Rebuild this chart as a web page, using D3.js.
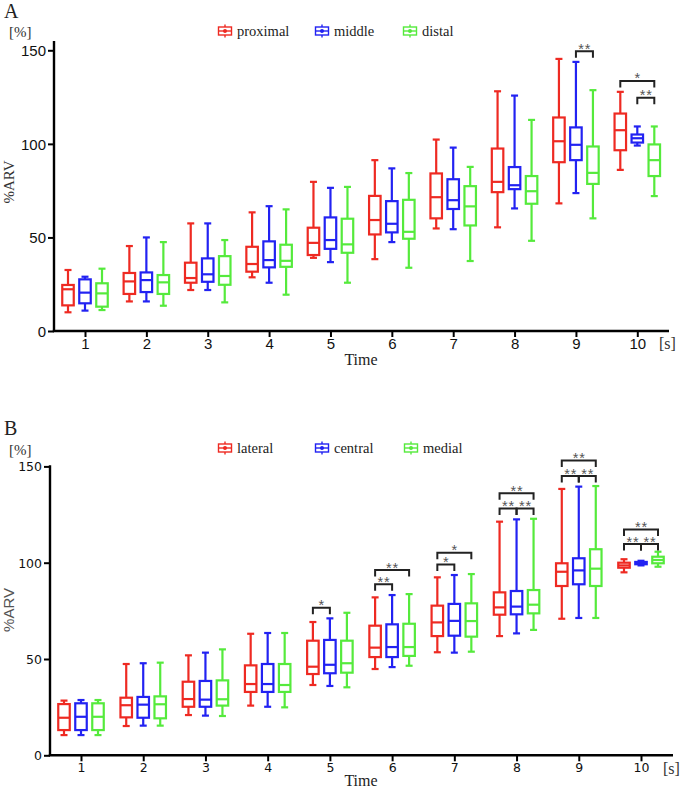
<!DOCTYPE html>
<html>
<head>
<meta charset="utf-8">
<script src="https://cdn.jsdelivr.net/npm/d3@7/dist/d3.min.js"></script>
<style>
  html, body { margin: 0; padding: 0; background: #fff; }
  svg { display: block; }
</style>
</head>
<body>
<svg id="chart" width="682" height="790"></svg>
<script>
// ---------------- DATA ----------------
const times = [1, 2, 3, 4, 5, 6, 7, 8, 9, 10];
const yTicks = [0, 50, 100, 150];
const seriesNamesA = ["proximal", "middle", "distal"];
const seriesNamesB = ["lateral", "central", "medial"];
const colors = ["#ee2a22", "#2222f2", "#55ea3c"];

// each entry: [min, q1, median, q3, max]
const proximal = [
  [10, 13.7, 22.3, 24.6, 32.6], [15.8, 19.8, 26.5, 31, 45.4], [21.9, 25.8, 28.3, 36.5, 57.5],
  [28.7, 31.7, 35.8, 45, 63.4], [39.1, 40.6, 47.1, 55.2, 79.7], [38.4, 51.6, 59.3, 72.2, 91.3],
  [54.8, 60.2, 71.5, 84.2, 102.3], [55.4, 74.2, 79.7, 97.5, 128.1], [68.2, 90.2, 101.4, 114.1, 145.4],
  [86.1, 96.6, 107.3, 116.2, 127.8]
];
const middle = [
  [10.9, 14.8, 20.5, 27.6, 29], [15.8, 20.8, 27.2, 31.3, 50], [21.9, 26.3, 30.3, 38.8, 57.5],
  [25.8, 34, 37.9, 47.9, 66.7], [36.8, 43.9, 48.6, 60.7, 76.5], [47.5, 52.7, 57.3, 69.4, 86.9],
  [54.4, 65.2, 69.9, 81.1, 98], [65.5, 75.8, 77.9, 87.6, 125.8], [73.7, 91.3, 99.5, 108.8, 143.8],
  [99.1, 100.7, 103, 105, 109.3]
];
const distal = [
  [11.2, 13, 20.1, 25.5, 33.3], [13.5, 19.8, 26, 29.9, 47.5], [15.3, 24.7, 29.4, 40, 48.6],
  [19.4, 34.3, 37.5, 46.1, 65], [25.8, 41.8, 46.3, 60, 77], [33.8, 49.3, 53, 70.1, 84.4],
  [37.4, 56.4, 66.6, 77.4, 87.7], [48.2, 68, 74.7, 82.8, 112.8], [60.2, 78.6, 84.5, 98.6, 128.7],
  [72.1, 82.8, 91.3, 99.7, 109.3]
];
const lateral = [
  [10.5, 13.1, 19.5, 26.6, 28.4], [15.2, 19.7, 26, 29.9, 47.4], [20.9, 25.2, 29.2, 38.2, 51.9],
  [25.8, 32.9, 37, 46.7, 63.1], [36.5, 42.2, 46, 59.5, 69.2], [44.8, 51, 55.9, 67.3, 82],
  [53.5, 61.9, 69, 77.7, 92.4], [61.9, 73, 76.8, 84.6, 121.3], [70.9, 87.9, 95.3, 99.7, 138.3],
  [95, 97.4, 98.6, 100, 101.8]
];
const central = [
  [10.5, 13.1, 20, 27, 28.7], [15.4, 19.5, 26.3, 30.3, 47.8], [20.6, 25.2, 28.9, 38.6, 53.3],
  [25.2, 32.9, 37, 47.4, 63.5], [36, 42.6, 47, 59.9, 71.1], [45.8, 51, 56.2, 68, 83.2],
  [53.3, 62.1, 69.8, 78.6, 93.6], [63.3, 73.2, 77.2, 85.3, 122.5], [71.3, 88.8, 96, 102.3, 139.5],
  [98.6, 99.2, 99.8, 100.4, 101]
];
const medial = [
  [10.5, 13.1, 20, 27, 28.7], [15.4, 19.2, 26.5, 30.6, 48.1], [20.4, 25.8, 29.1, 38.9, 55],
  [24.9, 32.9, 36.5, 47.4, 63.5], [35.3, 42.9, 47.8, 59.5, 74], [46.5, 51.6, 56.2, 68.3, 83.7],
  [53.8, 61.6, 69.7, 78.9, 94.1], [65.1, 73.7, 78.2, 85.8, 122.8], [71.3, 87.9, 96.9, 107, 139.8],
  [97.9, 99.7, 101.4, 103.1, 105.7]
];
// significance brackets: [time, fromSeries, toSeries, level (%), label]
const sigA = [
  [9, 1, 2, 149.5, "**"],
  [10, 0, 2, 133.6, "*"],
  [10, 1, 2, 124.6, "**"]
];
const sigB = [
  [5, 0, 1, 76.6, "*"],
  [6, 0, 1, 88.8, "**"], [6, 0, 2, 96.2, "**"],
  [7, 0, 1, 99.1, "*"], [7, 0, 2, 105.2, "*"],
  [8, 0, 1, 128.2, "**"], [8, 1, 2, 128.2, "**"], [8, 0, 2, 136, "**"],
  [9, 0, 1, 145, "**"], [9, 1, 2, 145, "**"], [9, 0, 2, 153, "**"],
  [10, 0, 1, 109.7, "**"], [10, 1, 2, 109.7, "**"], [10, 0, 2, 117.3, "**"]
];

// ---------------- DRAW ----------------
const svg = d3.select("#chart");
const serif = "'Liberation Serif','Times New Roman',serif";
const sans = "'Liberation Sans',Arial,sans-serif";

function panel(cfg) {
  const g = svg.append("g");
  const x = d3.scaleLinear().domain([1, 10]).range(cfg.xRange);
  const y = d3.scaleLinear().domain([0, 150]).range(cfg.yRange);
  const off = 17, bw = 11.5, cw = 7;

  // axes lines
  g.append("line").attr("x1", cfg.axisX).attr("x2", cfg.axisX)
    .attr("y1", y(0)).attr("y2", cfg.yTop)
    .attr("stroke", "#000").attr("stroke-width", 2.4);
  g.append("line").attr("x1", cfg.axisX - 1.2).attr("x2", cfg.xEnd)
    .attr("y1", y(0)).attr("y2", y(0))
    .attr("stroke", "#000").attr("stroke-width", 2.4);

  // y axis ticks
  const ya = g.append("g").attr("transform", `translate(${cfg.axisX},0)`)
    .call(d3.axisLeft(y).tickValues(yTicks).tickSize(6).tickSizeOuter(0).tickFormat(d3.format("d")));
  ya.select(".domain").remove();
  ya.selectAll(".tick line").attr("stroke", "#000").attr("stroke-width", 2);
  ya.selectAll(".tick text").attr("font-family", cfg.tickFont).attr("font-size", cfg.tickSize)
    .attr("fill", "#111").attr("x", -8).attr("dy", "0.36em");

  // x axis ticks
  const xa = g.append("g").attr("transform", `translate(0,${y(0)})`)
    .call(d3.axisBottom(x).tickValues(times).tickSize(6).tickSizeOuter(0).tickFormat(d3.format("d")));
  xa.select(".domain").remove();
  xa.selectAll(".tick line").attr("stroke", "#000").attr("stroke-width", 2);
  xa.selectAll(".tick text").attr("font-family", cfg.tickFont).attr("font-size", cfg.tickSize)
    .attr("fill", "#111").attr("y", cfg.xLabelY).attr("dy", "0");

  // boxes
  cfg.series.forEach((data, si) => {
    const col = colors[si];
    const sg = g.append("g").attr("stroke", col).attr("fill", "none").attr("stroke-width", 2.2);
    data.forEach((d, i) => {
      const cx = x(times[i]) + (si - 1) * off;
      const [mn, q1, md, q3, mx] = d;
      sg.append("line").attr("x1", cx).attr("x2", cx).attr("y1", y(mx)).attr("y2", y(q3));
      sg.append("line").attr("x1", cx).attr("x2", cx).attr("y1", y(q1)).attr("y2", y(mn));
      sg.append("line").attr("x1", cx - cw / 2).attr("x2", cx + cw / 2).attr("y1", y(mx)).attr("y2", y(mx));
      sg.append("line").attr("x1", cx - cw / 2).attr("x2", cx + cw / 2).attr("y1", y(mn)).attr("y2", y(mn));
      sg.append("rect").attr("x", cx - bw / 2).attr("width", bw)
        .attr("y", y(q3)).attr("height", Math.max(1, y(q1) - y(q3)));
      sg.append("line").attr("x1", cx - bw / 2).attr("x2", cx + bw / 2).attr("y1", y(md)).attr("y2", y(md));
    });
  });

  // significance brackets
  cfg.sig.forEach(([t, a, b, lvl, lab]) => {
    const x1 = x(t) + (a - 1) * off, x2 = x(t) + (b - 1) * off, yy = y(lvl);
    g.append("path").attr("d", `M${x1},${yy + 6.5}V${yy}H${x2}V${yy + 6.5}`)
      .attr("fill", "none").attr("stroke", "#222").attr("stroke-width", 2);
    const txt = g.append("text").attr("y", yy + 2.5)
      .attr("text-anchor", "middle").attr("font-family", sans)
      .attr("font-size", 14.5).attr("fill", "#555");
    lab.split("").forEach((c, k) => {
      const n = lab.length;
      txt.append("tspan").attr("x", (x1 + x2) / 2 + (k - (n - 1) / 2) * 6.5).text(c);
    });
  });

  // legend
  cfg.legend.forEach((name, i) => {
    const lx = cfg.legendX[i], ly = cfg.legendY;
    const lg = g.append("g").attr("stroke", colors[i]).attr("fill", "none").attr("stroke-width", 1.4);
    lg.append("rect").attr("x", lx - 6.5).attr("y", ly - 4).attr("width", 13).attr("height", 8);
    lg.append("line").attr("x1", lx - 6.5).attr("x2", lx + 6.5).attr("y1", ly).attr("y2", ly);
    lg.append("line").attr("x1", lx).attr("x2", lx).attr("y1", ly - 6.5).attr("y2", ly - 4);
    lg.append("line").attr("x1", lx).attr("x2", lx).attr("y1", ly + 4).attr("y2", ly + 6.5);
    lg.append("circle").attr("cx", lx).attr("cy", ly).attr("r", 1.3).attr("fill", colors[i]);
    g.append("text").attr("x", lx + 12).attr("y", ly + 4.5)
      .attr("font-family", serif).attr("font-size", 14.5).attr("fill", "#222").text(name);
  });

  // labels
  g.append("text").attr("x", 4).attr("y", cfg.letterY).attr("font-family", serif)
    .attr("font-size", 20).attr("fill", "#222").text(cfg.letter);
  g.append("text").attr("x", 9).attr("y", cfg.pctY).attr("font-family", serif)
    .attr("font-size", 15).attr("fill", "#333").text("[%]");
  g.append("text").attr("x", cfg.sX).attr("y", y(0) + cfg.sDY).attr("font-family", serif)
    .attr("font-size", 16).attr("fill", "#333").text("[s]");
  g.append("text").attr("x", 361).attr("y", cfg.timeY).attr("text-anchor", "middle")
    .attr("font-family", serif).attr("font-size", 16).attr("fill", "#222").text("Time");
  g.append("text").attr("transform", `translate(${cfg.yLabX},${cfg.yLabY}) rotate(-90)`)
    .attr("text-anchor", "middle").attr("font-family", cfg.yLabFont).attr("font-size", 15)
    .attr("fill", cfg.yLabColor).text("%ARV");
}

panel({
  series: [proximal, middle, distal], legend: seriesNamesA, sig: sigA,
  xRange: [85, 637.3], yRange: [331, 50.3], axisX: 54, yTop: 41, xEnd: 669,
  tickFont: sans, tickSize: 15, xLabelY: 18,
  legendX: [225, 322, 410], legendY: 31,
  letter: "A", letterY: 18, pctY: 37, sX: 659, sDY: 18, timeY: 365,
  yLabX: 14, yLabY: 182, yLabFont: serif, yLabColor: "#333"
});

panel({
  series: [lateral, central, medial], legend: seriesNamesB, sig: sigB,
  xRange: [81, 641], yRange: [755.3, 466.4], axisX: 50, yTop: 465.3, xEnd: 673,
  tickFont: "'DejaVu Sans',sans-serif", tickSize: 12.5, xLabelY: 17,
  legendX: [225, 322, 411], legendY: 448,
  letter: "B", letterY: 435, pctY: 455, sX: 663, sDY: 19, timeY: 786,
  yLabX: 14, yLabY: 610, yLabFont: sans, yLabColor: "#555"
});
</script>
</body>
</html>
